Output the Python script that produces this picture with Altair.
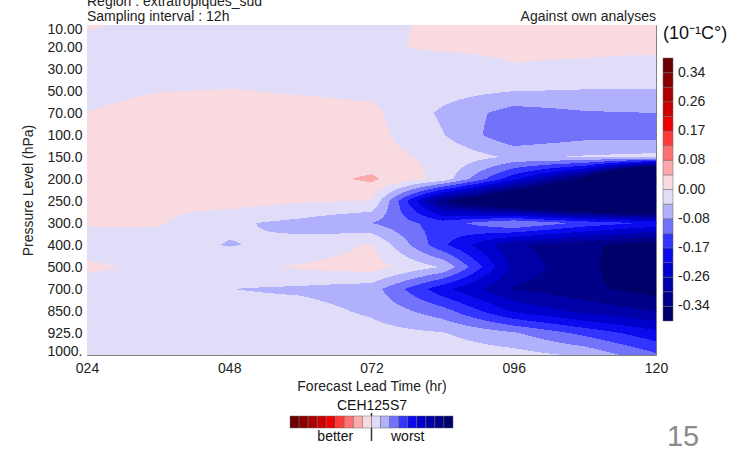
import altair as alt
import numpy as np
import pandas as pd

FONT = "Liberation Sans"

# ---------------- data ----------------
LEAD_TIMES = [24, 36, 48, 60, 72, 84, 96, 108, 120]
X_TICKS = [24, 48, 72, 96, 120]
LEVEL_LABELS = ["10.00", "20.00", "30.00", "50.00", "70.00", "100.0", "150.0", "200.0",
                "250.0", "300.0", "400.0", "500.0", "700.0", "850.0", "925.0", "1000."]

# score difference (10^-1 C) per pressure level (rows) and lead time (columns)
P10 = [0.005, -0.012, -0.015, -0.015, -0.010, 0.008, 0.015, 0.015, 0.015]
P20 = [-0.012, -0.020, -0.020, -0.020, -0.008, 0.008, 0.011, 0.012, 0.010]
P30 = [-0.015, -0.020, -0.020, -0.020, -0.020, -0.030, -0.004, -0.012, -0.020]
P50 = [-0.015, -0.001, 0.002, -0.004, -0.010, -0.025, -0.042, -0.045, -0.045]
P70 = [0.0005, 0.020, 0.020, 0.018, 0.010, -0.050, -0.105, -0.089, -0.085]
P100 = [0.010, 0.020, 0.020, 0.020, 0.015, -0.040, -0.120, -0.100, -0.100]
P150 = [0.010, 0.020, 0.020, 0.020, 0.015, -0.010, -0.050, -0.038, -0.030]
P200 = [0.010, 0.020, 0.020, 0.024, 0.050, -0.015, -0.200, -0.370, -0.800]
P250 = [0.005, 0.010, 0.020, 0.005, -0.002, -0.335, -0.480, -0.550, -0.600]
P300 = [0.005, 0.005, -0.035, -0.055, -0.085, -0.150, -0.080, -0.140, -0.180]
P400 = [-0.020, -0.025, -0.045, -0.030, 0.005, -0.160, -0.290, -0.330, -0.370]
P500 = [0.008, -0.010, -0.010, 0.005, 0.020, -0.045, -0.270, -0.330, -0.380]
P700 = [-0.020, -0.020, -0.042, -0.050, -0.065, -0.200, -0.300, -0.330, -0.360]
P850 = [-0.020, -0.020, -0.025, -0.025, -0.050, -0.110, -0.220, -0.270, -0.300]
P925 = [-0.020, -0.020, -0.020, -0.020, -0.025, -0.040, -0.080, -0.140, -0.200]
P1000 = [-0.020, -0.020, -0.020, -0.020, -0.020, -0.015, -0.025, -0.050, -0.120]

GRID = [P10, P20, P30, P50, P70, P100, P150, P200, P250, P300, P400, P500, P700, P850, P925, P1000]

CONTOUR_LEVELS = [-0.34, -0.2975, -0.255, -0.2125, -0.17, -0.1275, -0.085, -0.0425, 0.0,
                  0.0425, 0.085, 0.1275, 0.17, 0.2125, 0.255, 0.2975, 0.34]
BAND_COLORS = ["#00006a", "#000088", "#0000a8", "#0000cc", "#0a0aee", "#3434ff", "#7272fa",
               "#b0b0fc", "#e1dcf8", "#f8dae0", "#ffaaaa", "#ff7070", "#ff3a3a", "#ee0000",
               "#cc0000", "#aa0000", "#880000", "#6a0000"]
CBAR_TICK_LABELS = ["-0.34", "-0.26", "-0.17", "-0.08", "0.00", "0.08", "0.17", "0.26", "0.34"]
CBAR_TITLE = "(10\u207b\u00b9C\u00b0)"

# ---------------- layout ----------------
PW, PH = 569, 330
PAD_L, PAD_T = 87, 25

# ---------------- filled contours (rasterised runs) ----------------
G = np.array(GRID, dtype=float)
nrow, ncol = G.shape
nx, ny = PW, PH
cs = (np.arange(nx) + 0.5) / nx * (ncol - 1)
rs = (np.arange(ny) + 0.5) / ny * (nrow - 1)
c0 = np.clip(np.floor(cs).astype(int), 0, ncol - 2)
r0 = np.clip(np.floor(rs).astype(int), 0, nrow - 2)
fc = (cs - c0)[None, :]
fr = (rs - r0)[:, None]
V = (G[np.ix_(r0, c0)] * (1 - fr) * (1 - fc) + G[np.ix_(r0, c0 + 1)] * (1 - fr) * fc
     + G[np.ix_(r0 + 1, c0)] * fr * (1 - fc) + G[np.ix_(r0 + 1, c0 + 1)] * fr * fc)
band = np.digitize(V, CONTOUR_LEVELS)
lv = CONTOUR_LEVELS
rep = [lv[0] - 0.02] + [(lv[i] + lv[i + 1]) / 2 for i in range(len(lv) - 1)] + [lv[-1] + 0.02]

xmin, xmax = LEAD_TIMES[0], LEAD_TIMES[-1]
dxh = (xmax - xmin) / nx
dyr = (nrow - 1) / ny
rows = []
for j in range(ny):
    b = band[j]
    start = 0
    for i in range(1, nx + 1):
        if i == nx or b[i] != b[start]:
            x0 = xmin + start * dxh
            x1 = min(xmax, xmin + i * dxh + 0.5 * dxh)
            y0 = j * dyr
            y1 = min(nrow - 1, (j + 1) * dyr + 0.5 * dyr)
            rows.append({"x0": x0, "x1": x1, "y0": y0, "y1": y1, "val": rep[b[start]]})
            start = i
df = pd.DataFrame(rows)

sx = alt.Scale(domain=[xmin, xmax], nice=False, zero=False)
sy = alt.Scale(domain=[0, nrow - 1], reverse=True, nice=False, zero=False)

lvl_arr = "[" + ",".join("'%s'" % s for s in LEVEL_LABELS) + "]"
cb_arr = "[" + ",".join("'%s'" % s for s in CBAR_TICK_LABELS) + "]"
kexpr = "(round(datum.value/0.0425)+8)"

rects = alt.Chart(df).mark_rect().encode(
    x=alt.X("x0:Q", scale=sx, axis=alt.Axis(
        values=X_TICKS, format="03d", title="Forecast Lead Time (hr)", tickSize=0, domain=False,
        grid=False, labelFlush=False, labelFontSize=14, labelFont=FONT, labelColor="#222",
        labelPadding=6, titleFontSize=14, titleFont=FONT, titleFontWeight="normal", titleColor="#222",
        titleX=PW / 2, titleY=31, titleBaseline="middle", titleAlign="center")),
    x2="x1:Q",
    y=alt.Y("y0:Q", scale=sy, axis=alt.Axis(
        values=list(range(nrow)), labelExpr=lvl_arr + "[datum.value]", title="Pressure Level (hPa)",
        tickSize=0, domain=False, grid=False, labelFlush=True, labelFlushOffset=3,
        labelFontSize=14, labelFont=FONT, labelColor="#222",
        labelPadding=5, titleFontSize=14, titleFont=FONT, titleFontWeight="normal",
        titleColor="#222", titleX=-59, titleY=PH / 2, titleAngle=270, titleBaseline="middle",
        titleAlign="center")),
    y2="y1:Q",
    color=alt.Color("val:Q", scale=alt.Scale(type="threshold", domain=CONTOUR_LEVELS, range=BAND_COLORS),
                    legend=alt.Legend(
                        orient="right", offset=6, direction="vertical", type="gradient",
                        gradientLength=263, gradientThickness=10, title=CBAR_TITLE,
                        titleFontSize=18, titleFont=FONT, titleFontWeight="normal", titleColor="#111",
                        titlePadding=15, titleLimit=200, labelFontSize=14, labelFont=FONT,
                        labelColor="#222", labelOffset=5, labelOverlap=False,
                        labelExpr=kexpr + " % 2 == 0 ? " + cb_arr + "[" + kexpr + "/2] : ''",
                        padding=0, gradientStrokeColor="#666", gradientStrokeWidth=0.5)),
)

tick_df = pd.DataFrame({"x": [xmin, xmax], "y": [0, nrow - 1]})
tick_axis_x = dict(values=X_TICKS[1:-1], labels=False, domain=False, grid=False, ticks=True,
                   tickSize=9, tickColor="#555", tickWidth=1, title=None)
tick_axis_y = dict(values=list(range(1, nrow - 1)), labels=False, domain=False, grid=False,
                   ticks=True, tickSize=10, tickColor="#555", tickWidth=1, title=None)
ticks_a = alt.Chart(tick_df).mark_point(opacity=0).encode(
    x=alt.X("x:Q", scale=sx, axis=alt.Axis(orient="top", offset=-PH, **tick_axis_x)),
    y=alt.Y("y:Q", scale=sy, axis=alt.Axis(orient="right", offset=-PW, **tick_axis_y)),
)
ticks_b = alt.Chart(tick_df).mark_point(opacity=0).encode(
    x=alt.X("x:Q", scale=sx, axis=alt.Axis(orient="bottom", offset=-PH, **tick_axis_x)),
    y=alt.Y("y:Q", scale=sy, axis=alt.Axis(orient="left", offset=-PW, **tick_axis_y)),
)

# bottom "better | worst" colour bar (reds on the left)
leg_df = pd.DataFrame({"neg": [-r for r in rep]})
bottom_leg = alt.Chart(leg_df).mark_point(opacity=0).encode(
    stroke=alt.Stroke("neg:Q", scale=alt.Scale(type="threshold", domain=CONTOUR_LEVELS,
                                               range=BAND_COLORS[::-1]),
                      legend=alt.Legend(
                          orient="none", legendX=203, legendY=374, direction="horizontal", type="gradient",
                          gradientLength=163, gradientThickness=12, title="CEH125S7",
                          titleFontSize=14, titleFont=FONT, titleFontWeight="normal", titleColor="#111",
                          titleAnchor="middle", titlePadding=3, labelFontSize=14, labelFont=FONT,
                          labelColor="#111", labelOffset=2, labelOverlap=False,
                          labelExpr="round(datum.value/0.0425) == -4 ? 'better' : round(datum.value/0.0425) == 4 ? 'worst' : ''",
                          padding=0, gradientStrokeColor="#666", gradientStrokeWidth=0.5)),
)

mid_df = pd.DataFrame({"x": [72]})
mid_rule = alt.Chart(mid_df).mark_rule(color="#333", strokeWidth=1.5).encode(
    x=alt.X("x:Q", scale=sx, axis=None), y=alt.value(388), y2=alt.value(416))


def label(text, x, y, align="left", size=14, color="#222"):
    return alt.Chart(pd.DataFrame({"t": [text]})).mark_text(
        align=align, baseline="middle", fontSize=size, font=FONT, color=color
    ).encode(text="t:N", x=alt.value(x), y=alt.value(y))


texts = [
    label("Region : extratropiques_sud", 0, -23),
    label("Sampling interval : 12h", 0, -8),
    label("Against own analyses", PW, -8, align="right"),
    label("15", 596, 412, align="center", size=29, color="#8a8a8a"),
]

chart = alt.layer(rects, ticks_a, ticks_b, bottom_leg, mid_rule, *texts).resolve_axis(
    x="independent", y="independent"
).properties(
    width=PW, height=PH,
    autosize=alt.AutoSizeParams(type="none"),
    padding={"left": PAD_L, "top": PAD_T, "right": 748 - PAD_L - PW, "bottom": 452 - PAD_T - PH},
).configure_view(stroke="#808080", strokeWidth=1)

chart.save("out.html", embed_options={"renderer": "svg", "actions": False})
